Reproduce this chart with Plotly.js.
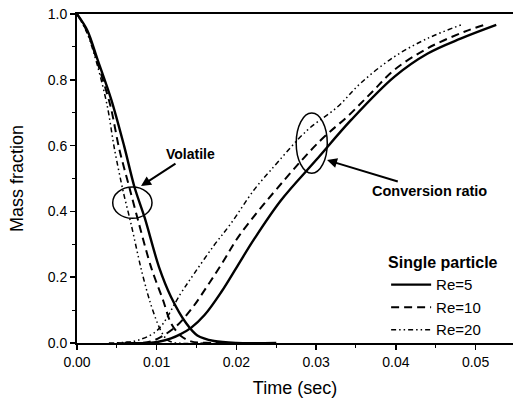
<!DOCTYPE html>
<html>
<head>
<meta charset="utf-8">
<script src="https://cdn.plot.ly/plotly-3.0.1.min.js"></script>
<style>html,body{margin:0;padding:0;background:#fff}#chart{width:513px;height:398px}</style>
</head>
<body>
<div id="chart"></div>
<script>
// Volatile mass fraction
const volT5  = [0, 0.0013, 0.0026, 0.0043, 0.0059, 0.0072, 0.0085, 0.0103, 0.0118, 0.0137, 0.0151, 0.0172, 0.0200, 0.0250];
const volY5  = [1.0, 0.95, 0.86, 0.74, 0.60, 0.475, 0.38, 0.23, 0.14, 0.06, 0.023, 0.006, 0.0, 0.0];
const volT10 = [0, 0.0013, 0.0026, 0.0042, 0.0053, 0.0066, 0.0078, 0.0093, 0.0108, 0.0118, 0.0130, 0.0143, 0.0170, 0.0220];
const volY10 = [1.0, 0.945, 0.85, 0.72, 0.59, 0.47, 0.36, 0.23, 0.13, 0.06, 0.022, 0.005, 0.0, 0.0];
const volT20 = [0, 0.0013, 0.0026, 0.0038, 0.0047, 0.0058, 0.0068, 0.0080, 0.0091, 0.0101, 0.0108, 0.0114, 0.0125, 0.0160];
const volY20 = [1.0, 0.94, 0.84, 0.72, 0.59, 0.46, 0.36, 0.23, 0.13, 0.06, 0.025, 0.008, 0.0, 0.0];
// Conversion ratio
const convT5  = [0.0060, 0.0090, 0.0101, 0.0118, 0.0130, 0.0143, 0.0160, 0.0181, 0.0202, 0.0222, 0.0256, 0.0300, 0.0344, 0.0398, 0.0440, 0.0482, 0.0526];
const convY5  = [0.0, 0.0, 0.003, 0.014, 0.027, 0.046, 0.085, 0.155, 0.237, 0.315, 0.434, 0.556, 0.678, 0.809, 0.88, 0.926, 0.967];
const convT10 = [0.0050, 0.0080, 0.0093, 0.0105, 0.0125, 0.0145, 0.0164, 0.0183, 0.0204, 0.0260, 0.0306, 0.0340, 0.0369, 0.0398, 0.0440, 0.0486, 0.0511];
const convY10 = [0.0, 0.0, 0.005, 0.018, 0.052, 0.108, 0.175, 0.246, 0.328, 0.495, 0.617, 0.69, 0.76, 0.83, 0.896, 0.946, 0.967];
const convT20 = [0.0040, 0.0060, 0.0076, 0.0101, 0.0130, 0.0147, 0.0172, 0.0193, 0.0222, 0.0243, 0.0289, 0.0327, 0.0356, 0.0398, 0.0440, 0.0482];
const convY20 = [0.0, 0.002, 0.008, 0.039, 0.15, 0.211, 0.297, 0.363, 0.465, 0.525, 0.647, 0.718, 0.79, 0.87, 0.926, 0.967];

const seriesNames = ['Re=5', 'Re=10', 'Re=20'];
const xTickVals = [0, 0.01, 0.02, 0.03, 0.04, 0.05];
const yTickVals = [0, 0.2, 0.4, 0.6, 0.8, 1.0];

const styles = [
  {color: '#000', width: 2.4, dash: 'solid'},
  {color: '#000', width: 2.0, dash: '8px,5px'},
  {color: '#000', width: 1.5, dash: '5px,3px,1.5px,3px,1.5px,3px'}
];
const volT = [volT5, volT10, volT20], volY = [volY5, volY10, volY20];
const convT = [convT5, convT10, convT20], convY = [convY5, convY10, convY20];

const traces = [];
for (let i = 0; i < 3; i++) {
  traces.push({x: volT[i], y: volY[i], type: 'scatter', mode: 'lines', name: seriesNames[i],
    legendgroup: seriesNames[i], line: Object.assign({shape: 'spline', smoothing: 0.9}, styles[i])});
}
for (let i = 0; i < 3; i++) {
  traces.push({x: convT[i], y: convY[i], type: 'scatter', mode: 'lines', name: seriesNames[i],
    legendgroup: seriesNames[i], showlegend: false, line: Object.assign({shape: 'spline', smoothing: 1.0}, styles[i])});
}

const font = 'Liberation Sans, Arial, sans-serif';
const layout = {
  width: 513, height: 398,
  margin: {l: 77, r: 0, t: 14, b: 55},
  paper_bgcolor: '#fff', plot_bgcolor: '#fff',
  font: {family: font, color: '#000', size: 14},
  showlegend: true,
  xaxis: {
    range: [0, 0.0547], tickvals: xTickVals, tickformat: '.2f',
    showgrid: false, zeroline: false, showline: true, linewidth: 2, linecolor: '#000', mirror: true,
    ticks: 'outside', ticklen: 5, tickwidth: 1.5, tickcolor: '#000',
    minor: {dtick: 0.005, tick0: 0, ticks: 'outside', ticklen: 3, tickwidth: 1, tickcolor: '#000'},
    tickfont: {size: 14, family: font},
    title: {text: 'Time (sec)', font: {size: 18, family: font}, standoff: 13}
  },
  yaxis: {
    range: [0, 1.0], tickvals: yTickVals, tickformat: '.1f',
    showgrid: false, zeroline: false, showline: true, linewidth: 2, linecolor: '#000',
    ticks: 'outside', ticklen: 5, tickwidth: 1.5, tickcolor: '#000',
    minor: {dtick: 0.1, tick0: 0, ticks: 'outside', ticklen: 3, tickwidth: 1, tickcolor: '#000'},
    tickfont: {size: 14, family: font},
    title: {text: 'Mass fraction', font: {size: 18, family: font}, standoff: 19}
  },
  legend: {
    x: 0.709, y: 0.29, xanchor: 'left', yanchor: 'top',
    bgcolor: 'rgba(0,0,0,0)', borderwidth: 0,
    font: {size: 15, family: font},
    title: {text: '<b>Single particle</b>', font: {size: 16, family: font}},
    tracegroupgap: 0, itemwidth: 40
  },
  shapes: [
    {type: 'circle', xref: 'x', yref: 'y', x0: 0.00448, x1: 0.00941, y0: 0.379, y1: 0.474, line: {color: '#000', width: 1.5}},
    {type: 'circle', xref: 'x', yref: 'y', x0: 0.0275, x1: 0.0314, y0: 0.516, y1: 0.699, line: {color: '#000', width: 1.5}}
  ],
  annotations: [
    {x: 0.00803, y: 0.477, xref: 'x', yref: 'y', text: '<b>Volatile</b>', showarrow: true,
      ax: 49, ay: -32, arrowhead: 2, arrowsize: 1, arrowwidth: 2, arrowcolor: '#000',
      font: {size: 14, family: font}},
    {x: 0.03137, y: 0.556, xref: 'x', yref: 'y', text: '<b>Conversion ratio</b>', showarrow: true,
      ax: 102, ay: 31, arrowhead: 2, arrowsize: 1, arrowwidth: 2, arrowcolor: '#000',
      font: {size: 14.5, family: font}}
  ]
};

Plotly.newPlot('chart', traces, layout, {displayModeBar: false, staticPlot: true});
</script>
</body>
</html>
